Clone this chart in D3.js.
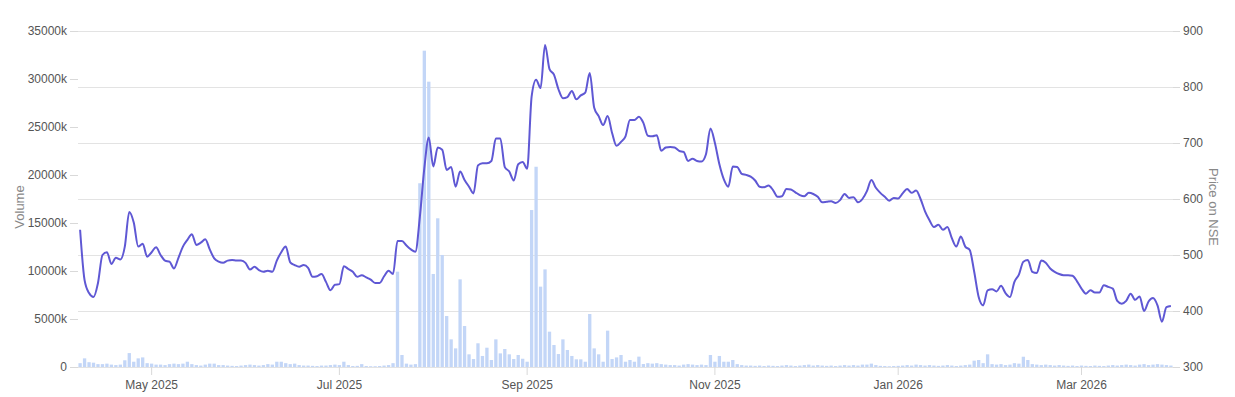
<!DOCTYPE html>
<html>
<head>
<meta charset="utf-8">
<script src="https://cdn.jsdelivr.net/npm/d3@7"></script>
<style>
  body { margin: 0; background: #fff; }
  svg text { font-family: Arial, "Liberation Sans", sans-serif; }
</style>
</head>
<body>
<svg id="chart" width="1235" height="397"></svg>
<script>
// trading sessions, Apr 2025 - Mar 2026 (one entry per session)
var volume = [ // thousands of shares
  400, 900, 500, 450, 300, 300, 350, 250, 200, 250, 700, 1450, 550, 900, 1000, 400, 350, 250, 250, 200,
  300, 350, 300, 350, 550, 300, 200, 150, 250, 350, 350, 200, 200, 150, 120, 100, 150, 200, 250, 200,
  150, 200, 300, 250, 550, 550, 400, 300, 350, 200, 150, 150, 120, 100, 150, 150, 200, 250, 200, 550,
  200, 100, 120, 300, 100, 80, 80, 100, 150, 200, 400, 9930, 1250, 350, 250, 300, 19140, 32950, 29720, 9690,
  15490, 11670, 5310, 2880, 1940, 9130, 4270, 1320, 830, 2470, 1150, 2010, 730, 2880, 1420, 1875, 1320, 830, 1250, 860,
  550, 16350, 20860, 8370, 10170, 3680, 2290, 1350, 2880, 1770, 1150, 800, 800, 550, 5520, 1940, 1320, 550, 3785, 830,
  1000, 1250, 550, 730, 550, 1080, 310, 400, 350, 400, 300, 250, 200, 200, 150, 250, 300, 250, 200, 250,
  200, 1250, 550, 1150, 550, 550, 730, 300, 200, 150, 150, 120, 150, 100, 150, 120, 100, 150, 200, 150,
  100, 150, 200, 250, 150, 200, 150, 120, 150, 100, 150, 200, 150, 200, 150, 250, 250, 350, 200, 120,
  100, 80, 100, 120, 150, 200, 150, 250, 200, 150, 200, 150, 120, 150, 200, 150, 100, 150, 200, 250,
  660, 730, 400, 1320, 300, 250, 300, 200, 250, 400, 350, 1070, 730, 300, 250, 200, 250, 200, 150, 200,
  150, 120, 150, 100, 150, 120, 100, 150, 120, 100, 150, 200, 150, 200, 250, 200, 150, 250, 300, 200,
  250, 300, 250, 200, 150
];

var price = [
  545, 455, 432, 425, 450, 500, 505, 484, 495, 492, 515, 577, 558, 515, 520, 497, 505, 514, 500, 490,
  488, 476, 495, 515, 527, 537, 518, 522, 528, 510, 494, 488, 486, 490, 491, 490, 490, 486, 474, 479,
  473, 470, 472, 470, 490, 505, 515, 487, 482, 479, 482, 477, 461, 462, 466, 452, 437, 447, 448, 480,
  475, 470, 461, 464, 460, 456, 450, 450, 462, 472, 466, 525, 525, 517, 510, 506, 568, 655, 710, 658,
  692, 688, 652, 657, 622, 649, 634, 622, 610, 660, 664, 664, 668, 708, 708, 657, 649, 633, 662, 666,
  654, 783, 813, 798, 875, 832, 822, 796, 780, 782, 793, 778, 785, 790, 825, 763, 748, 732, 748, 718,
  695, 702, 712, 741, 741, 747, 736, 713, 712, 714, 686, 692, 693, 692, 686, 684, 668, 672, 668, 667,
  680, 726, 700, 662, 635, 622, 658, 657, 645, 643, 640, 633, 622, 621, 624, 616, 604, 605, 618, 617,
  612, 607, 605, 611, 609, 604, 594, 595, 596, 593, 598, 609, 602, 603, 594, 600, 614, 634, 620, 611,
  604, 597, 602, 601, 610, 618, 611, 615, 600, 578, 562, 550, 554, 545, 550, 530, 515, 533, 515, 509,
  470, 425, 410, 437, 439, 435, 445, 432, 425, 452, 465, 488, 491, 470, 468, 490, 486, 476, 470, 466,
  464, 464, 463, 453, 440, 431, 437, 433, 433, 446, 443, 440, 418, 413, 418, 431, 420, 426, 400, 417,
  423, 410, 381, 407, 409
];

var monthLabels = ["May 2025", "Jul 2025", "Sep 2025", "Nov 2025", "Jan 2026", "Mar 2026"];
var monthIndex = [16, 58, 100, 142, 183, 224]; // first session of each labelled month
var volumeTicks = [0, 5000, 10000, 15000, 20000, 25000, 30000, 35000];
var priceTicks = [300, 400, 500, 600, 700, 800, 900];

var svg = d3.select("#chart");
var plotLeft = 78, plotRight = 1173, plotTop = 31, plotBottom = 367;

var x = d3.scaleBand()
  .domain(d3.range(volume.length))
  .range([plotLeft, plotRight])
  .paddingInner(0.26)
  .paddingOuter(0.1);

var yVol = d3.scaleLinear().domain([0, 35000]).range([plotBottom, plotTop]);
var yPrice = d3.scaleLinear().domain([300, 900]).range([plotBottom, plotTop]);

// gridlines follow the price axis
svg.append("g")
  .attr("class", "grid")
  .selectAll("line")
  .data(priceTicks)
  .enter().append("line")
    .attr("x1", plotLeft)
    .attr("x2", plotRight)
    .attr("y1", function(d) { return Math.round(yPrice(d)) + 0.5; })
    .attr("y2", function(d) { return Math.round(yPrice(d)) + 0.5; })
    .attr("stroke", "#e3e3e3");

// volume bars
svg.append("g")
  .selectAll("rect")
  .data(volume)
  .enter().append("rect")
    .attr("x", function(d, i) { return x(i); })
    .attr("width", x.bandwidth())
    .attr("y", function(d) { return yVol(d); })
    .attr("height", function(d) { return plotBottom - yVol(d); })
    .attr("fill", "#c3d6f7");

// price line
var line = d3.line()
  .x(function(d, i) { return x(i) + x.bandwidth() / 2; })
  .y(function(d) { return yPrice(d); })
  .curve(d3.curveMonotoneX);

svg.append("path")
  .datum(price)
  .attr("d", line)
  .attr("fill", "none")
  .attr("stroke", "#5f58d4")
  .attr("stroke-width", 2);

// left axis
var leftAxis = svg.append("g")
  .attr("transform", "translate(" + plotLeft + ",0)")
  .call(d3.axisLeft(yVol)
    .tickValues(volumeTicks)
    .tickSize(8)
    .tickPadding(3)
    .tickFormat(function(d) { return d === 0 ? "0" : d + "k"; }));

// right axis
var rightAxis = svg.append("g")
  .attr("transform", "translate(" + plotRight + ",0)")
  .call(d3.axisRight(yPrice)
    .tickValues(priceTicks)
    .tickSize(7)
    .tickPadding(3));

// bottom axis
var bottomAxis = svg.append("g")
  .attr("transform", "translate(0," + plotBottom + ")")
  .call(d3.axisBottom(x)
    .tickValues(monthIndex)
    .tickSize(8)
    .tickPadding(5)
    .tickFormat(function(d) { return monthLabels[monthIndex.indexOf(d)]; }));

[leftAxis, rightAxis, bottomAxis].forEach(function(g) {
  g.select(".domain").remove();
  g.selectAll(".tick line").attr("stroke", "#d9d9d9");
  g.selectAll(".tick text").attr("fill", "#555").style("font-size", "12px");
});

svg.append("text")
  .attr("transform", "translate(24,207) rotate(-90)")
  .attr("text-anchor", "middle")
  .attr("fill", "#888")
  .style("font-size", "13px")
  .text("Volume");

svg.append("text")
  .attr("transform", "translate(1209,207) rotate(90)")
  .attr("text-anchor", "middle")
  .attr("fill", "#888")
  .style("font-size", "13px")
  .text("Price on NSE");
</script>
</body>
</html>
